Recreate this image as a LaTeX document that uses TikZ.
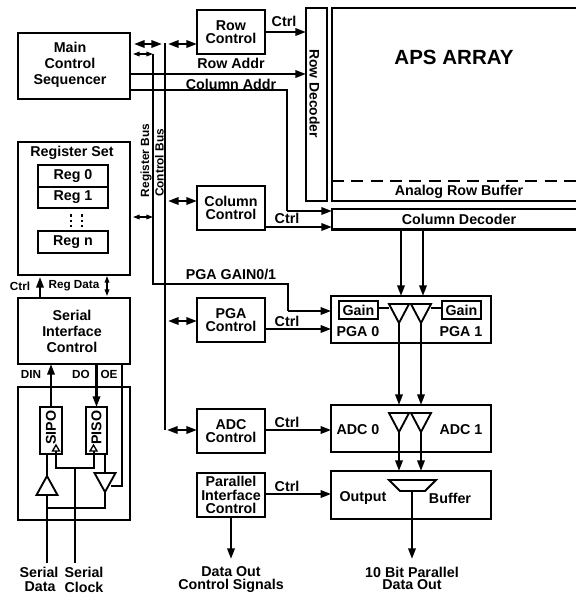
\documentclass[tikz,border=0pt]{standalone}
\usepackage{fontspec}
\setmainfont{Liberation Sans}[BoldFont={Liberation Sans Bold}]
\usetikzlibrary{arrows.meta,calc}
\tikzset{
  f/.style={font=\bfseries\fontsize{10.7}{12}\selectfont},
  ft/.style={font=\bfseries\fontsize{10.7}{9.9}\selectfont},
  fs/.style={font=\bfseries\fontsize{8.8}{10}\selectfont},
  lw/.style={line width=1.7pt},
  bx/.style 2 args={draw,lw,minimum width=#1*0.75pt,minimum height=#2*0.75pt,inner sep=0pt,outer sep=0pt,align=center,f},
  btx/.style 2 args={bx={#1}{#2},ft},
  txt/.style={inner sep=0pt,align=center,f},
  stxt/.style={inner sep=0pt,align=center,fs},
  arr/.style={lw,-{Triangle[length=8pt,width=5.5pt]}},
  darr/.style={lw,{Triangle[length=8pt,width=5.5pt]}-{Triangle[length=8pt,width=5.5pt]}},
  sdarr/.style={line width=1pt,{Triangle[length=5pt,width=3.5pt]}-{Triangle[length=5pt,width=3.5pt]}},
  ln/.style={lw,line join=miter},
  tri/.style={line width=1.4pt,line join=miter,fill=white},
}
\begin{document}
\begin{tikzpicture}[x=0.75pt,y=-0.75pt]
\useasboundingbox (0,0) rectangle (576,594);

% ---------- blocks
\node[bx={112}{66}] (main) at (74,66) {};
\node[txt] (mainl) at (70,65) {Main\\Control\\Sequencer};
\node[bx={112}{133}] (regset) at (74,208.5) {};
\node[txt] (regsetl) at (72,153) {Register Set};
\node[bx={70}{22}] (reg0) at (73,176) {Reg 0};
\node[bx={70}{21}] (reg1) at (73,197.5) {Reg 1};
\node[bx={70}{22}] (regn) at (73,242) {Reg n};
\node[bx={112}{66}] (serial) at (74,331) {};
\node[txt] (seriall) at (72,331.5) {Serial\\Interface\\Control};
\node[bx={112}{133}] (lower) at (74,453.5) {};
\node[bx={22}{47}] (sipo) at (51,430.5) {};
\node[bx={21}{47}] (piso) at (96.5,430.5) {};
\node[txt,rotate=90] (sipol) at (51,427.5) {SIPO};
\node[txt,rotate=90] (pisol) at (96.5,427.5) {PISO};

\node[btx={68}{44}] (rowctl) at (231,32) {Row\\Control};
\node[btx={68}{44}] (colctl) at (231,208) {Column\\Control};
\node[btx={68}{44}] (pgactl) at (231,320) {PGA\\Control};
\node[btx={68}{44}] (adcctl) at (231,431) {ADC\\Control};
\node[btx={68}{44}] (parctl) at (231,495) {Parallel\\Interface\\Control};

\node[bx={21}{193}] (rowdec) at (316.5,104.5) {};
\node[txt,rotate=-90,font=\bfseries\fontsize{10.4}{12}\selectfont] (rowdecl) at (314.5,93.5) {Row Decoder};
\node[bx={260}{193}] (aps) at (462,104.5) {};
\node[txt,font=\bfseries\fontsize{15.4}{17}\selectfont] (apsl) at (454,57) {APS ARRAY};
\node[txt] (arb) at (459,192) {Analog Row Buffer};
\node[bx={260}{20.5}] (coldec) at (462,219.2) {};
\node[txt] (coldecl) at (459,219) {Column Decoder};

\node[bx={159.5}{47}] (pga) at (411,319.5) {};
\node[bx={159.5}{47}] (adc) at (411,428.5) {};
\node[bx={159.5}{48}] (outb) at (411,495) {};
\node[bx={39}{18}] (gain0) at (358.5,310) {Gain};
\node[bx={39}{18}] (gain1) at (461.5,310) {Gain};
\node[txt] (pga0l) at (358,332) {PGA 0};
\node[txt] (pga1l) at (461,332) {PGA 1};
\node[txt] (adc0l) at (358,430) {ADC 0};
\node[txt] (adc1l) at (461,430) {ADC 1};
\node[txt] (outl) at (363,498) {Output};
\node[txt] (bufl) at (450,498) {Buffer};

% ---------- dashed row buffer boundary
\draw[lw,dash pattern=on 9pt off 5.5pt] (aps.west |- 0,181) -- (576,181);

% ---------- buses
\coordinate (ctop) at (165,43);
\coordinate (cbot) at (165,430);
\coordinate (rtop) at (153,54);
\coordinate (rbend) at (153,284);
\coordinate (gbend) at (288,284);
\draw[ln] (ctop) -- (cbot);
\draw[ln] (rtop) -- (rbend) -- (gbend) -- (gbend |- 0,311);
\draw[arr] (288,311) -- (pga.west |- 0,311);
\node[stxt,rotate=90,font=\bfseries\fontsize{8.9}{10}\selectfont] (rbl) at (146,160.5) {Register Bus};
\node[stxt,rotate=90,font=\bfseries\fontsize{8.9}{10}\selectfont] (cbl) at (159.5,163) {Control Bus};

\coordinate (ma) at (134,44);
\coordinate (mb) at (162,44);
\draw[darr] (ma) -- (mb);
\draw[darr] (168,44) -- (rowctl.west |- 0,44);
\draw[sdarr] (133,54) -- (rtop);
\draw[sdarr] (133,217) -- (rtop |- 0,217);
\draw[darr] (168,201) -- (colctl.west |- 0,201);
\draw[darr] (168,321) -- (pgactl.west |- 0,321);
\draw[darr] (167,430) -- (adcctl.west |- 0,430);

% ---------- row / column control
\draw[arr] (rowctl.east) -- (rowdec.west |- rowctl.east);
\draw[arr] (main.east |- 0,74) -- (rowdec.west |- 0,74);
\coordinate (cabend) at (287,90);
\draw[ln,line width=1.4pt] (main.east |- cabend) -- (cabend) -- (cabend |- 0,211);
\draw[arr] (cabend |- 0,211) -- (coldec.west |- 0,211);
\draw[arr] (colctl.east |- 0,227) -- (coldec.west |- 0,227);
\draw[arr] (pgactl.east |- 0,329) -- (pga.west |- 0,329);
\draw[arr] (adcctl.east |- 0,430) -- (adc.west |- 0,430);
\draw[arr] (parctl.east |- 0,494) -- (outb.west |- 0,494);

\node[txt] (lctrl1) at (284,21) {Ctrl};
\node[txt] (lrow) at (231,63) {Row Addr};
\node[txt] (lcol) at (231,84) {Column Addr};
\node[txt] (lctrl2) at (287,218) {Ctrl};
\node[txt] (lgain) at (231,274) {PGA GAIN0/1};
\node[txt] (lctrl3) at (287,321) {Ctrl};
\node[txt] (lctrl4) at (287,422) {Ctrl};
\node[txt] (lctrl5) at (287,486) {Ctrl};

% ---------- column decoder to PGA
\draw[arr] (401,230) -- (401,296);
\draw[arr] (423,230) -- (423,296);

% ---------- PGA amplifiers
\coordinate (pt0) at (399,323);
\coordinate (pt1) at (421,323);
\draw[ln] (gain0.east |- 0,308) -- (389,308);
\draw[ln] (gain1.west |- 0,308) -- (431,308);
\draw[arr] (pt0) -- (pt0 |- adc.north);
\draw[arr] (pt1) -- (pt1 |- adc.north);
\draw[tri] (389,304) -- (409,304) -- (pt0) -- cycle;
\draw[tri] (411,304) -- (431,304) -- (pt1) -- cycle;

% ---------- ADC amplifiers
\coordinate (at0) at (399,432);
\coordinate (at1) at (421,432);
\draw[arr] (at0) -- (at0 |- outb.north);
\draw[arr] (at1) -- (at1 |- outb.north);
\draw[tri] (389,413) -- (409,413) -- (at0) -- cycle;
\draw[tri] (411,413) -- (431,413) -- (at1) -- cycle;

% ---------- output mux
\coordinate (mout) at (412,491);
\coordinate (dataout) at (412,559);
\draw[tri] (389,480) -- (436,480) -- (425,491) -- (400,491) -- cycle;
\draw[arr] (mout) -- (dataout);
\node[txt] (dol1) at (412,572) {10 Bit Parallel};
\node[txt] (dol2) at (412,585) {Data Out};

\coordinate (parout) at (231,559);
\draw[arr] (parctl.south) -- (parout);
\node[txt] (pol1) at (231,572) {Data Out};
\node[txt] (pol2) at (231,586) {Control Signals};

% ---------- register / serial
\foreach \x in {71,82} \draw[line width=1.5pt,dash pattern=on 2pt off 2.2pt] (\x,214) -- (\x,227);
\coordinate (cx) at (40,277);
\draw[arr] (serial.north -| cx) -- (cx);
\draw[sdarr] (107,276) -- (107,296);
\node[stxt] (lc) at (20,286) {Ctrl};
\node[stxt] (lrd) at (74,286) {Reg Data};
\node[stxt] (ldin) at (31,374) {DIN};
\node[stxt] (ldo) at (81,374) {DO};
\node[stxt] (loe) at (109,374) {OE};

\draw[arr] (sipo.north) -- (sipo.north |- serial.south);
\draw[arr] (piso.north |- serial.south) -- (piso.north);

% ---------- serial I/O
\coordinate (dd) at (47,563);
\coordinate (cc) at (75,563);
\draw[ln] (47,454) -- (47,476);
\draw[ln] (105,454) -- (105,473);
\draw[ln] (122,364) -- (122,486) -- (111,486);
\draw[ln] (105,492) -- (105,508) -- (47,508);
\draw[ln] (47,495) -- (dd);
\draw[ln] (cc) -- (75,468);
\draw[ln] (56,451) -- (56,468) -- (94,468) -- (94,451);
\draw[tri] (47,476) -- (57.5,495) -- (36.5,495) -- cycle;
\draw[tri] (94.5,473) -- (115.5,473) -- (105,492) -- cycle;
\draw[line width=1pt,fill=white] (56,445) -- (59.5,451) -- (52.5,451) -- cycle;
\draw[line width=1pt,fill=white] (93.5,445) -- (97,451) -- (90,451) -- cycle;
\node[txt] (sd1) at (39,572) {Serial};
\node[txt] (sd2) at (40,587) {Data};
\node[txt] (sc1) at (84,572) {Serial};
\node[txt] (sc2) at (84,587) {Clock};
\end{tikzpicture}
\end{document}
